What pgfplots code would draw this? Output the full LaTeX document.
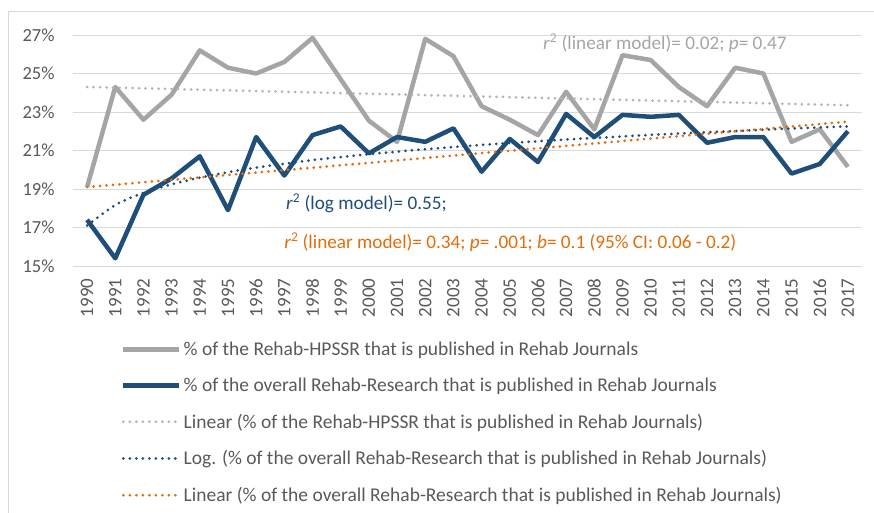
\documentclass[border=0pt]{standalone}
\usepackage{pgfplots}
\pgfplotsset{compat=1.18}
\usepackage{fontspec}
\setmainfont{Carlito}
\definecolor{cgray}{HTML}{A5A5A5}
\definecolor{cgrayd}{HTML}{B4B4B4}
\definecolor{cnavy}{HTML}{1F4E79}
\definecolor{corange}{HTML}{E46C0A}
\definecolor{ctick}{HTML}{595959}
\definecolor{cgrid}{HTML}{D9D9D9}
\begin{document}
\begin{tikzpicture}[x=1bp,y=1bp]
\useasboundingbox (0,0) rectangle (874,-513);
\draw[cgrid,line width=1bp] (8,-513) -- (8,-12) -- (874,-12);
\begin{axis}[
  at={(73bp,-266bp)}, anchor=south west,
  scale only axis, width=789bp, height=231bp,
  xmin=1989.5, xmax=2017.5, ymin=15, ymax=27,
  xtick={1990,...,2017},
  ytick={15,17,...,27},
  yticklabels={15\%,17\%,19\%,21\%,23\%,25\%,27\%},
  /pgf/number format/assume math mode=true,
  /pgf/number format/set thousands separator={},
  x tick label style={rotate=90, anchor=east, font=\fontsize{19bp}{21bp}\selectfont, text=ctick},
  xticklabel shift=9bp,
  y tick label style={font=\fontsize{18.5bp}{21bp}\selectfont, text=ctick},
  yticklabel shift=15bp,
  ymajorgrids, grid style={cgrid, line width=1bp},
  axis line style={draw=none},
  major tick style={draw=none},
  clip=false,
  legend cell align=left,
  legend style={draw=none, fill=none, at={(0.057,-0.31)}, anchor=north west,
    font=\fontsize{19.5bp}{22bp}\selectfont, text=ctick, row sep=17bp,
    /tikz/every even column/.append style={column sep=4bp}},
  legend image code/.code={\draw[#1] (0bp,0bp) -- (56bp,0bp);},
]
\addplot[cgray, line width=4.5bp, line join=round] coordinates {
(1990,19.1)(1991,24.3)(1992,22.6)(1993,23.9)(1994,26.2)(1995,25.3)(1996,25.0)
(1997,25.6)(1998,26.85)(1999,24.7)(2000,22.55)(2001,21.45)(2002,26.8)(2003,25.9)
(2004,23.3)(2005,22.6)(2006,21.8)(2007,24.05)(2008,22.1)(2009,25.95)(2010,25.7)
(2011,24.3)(2012,23.3)(2013,25.3)(2014,25.0)(2015,21.45)(2016,22.1)(2017,20.15)};
\addlegendentry{\% of the Rehab-HPSSR that is published in Rehab Journals}
\addplot[cnavy, line width=4.5bp, line join=round] coordinates {
(1990,17.4)(1991,15.4)(1992,18.7)(1993,19.55)(1994,20.7)(1995,17.9)(1996,21.7)
(1997,19.7)(1998,21.8)(1999,22.25)(2000,20.85)(2001,21.7)(2002,21.45)(2003,22.15)
(2004,19.9)(2005,21.6)(2006,20.4)(2007,22.9)(2008,21.7)(2009,22.85)(2010,22.75)
(2011,22.85)(2012,21.4)(2013,21.7)(2014,21.7)(2015,19.8)(2016,20.3)(2017,22.0)};
\addlegendentry{\% of the overall Rehab-Research that is published in Rehab Journals}
\addplot[cgrayd, line width=3bp, line cap=round, dash pattern=on 0bp off 6.5bp] coordinates {
(1990,24.3)(2017,23.35)};
\addlegendentry{Linear (\% of the Rehab-HPSSR that is published in Rehab Journals)}
\addplot[cnavy, line width=3bp, line cap=round, dash pattern=on 0bp off 6.5bp, smooth] coordinates {
(1990,17.10)(1991,18.17)(1992,18.80)(1993,19.24)(1994,19.59)(1995,19.87)(1996,20.11)
(1997,20.31)(1998,20.50)(1999,20.66)(2000,20.81)(2001,20.94)(2002,21.07)(2003,21.18)
(2004,21.29)(2005,21.39)(2006,21.48)(2007,21.57)(2008,21.65)(2009,21.73)(2010,21.81)
(2011,21.88)(2012,21.95)(2013,22.01)(2014,22.08)(2015,22.14)(2016,22.20)(2017,22.25)};
\addlegendentry{Log. (\% of the overall Rehab-Research that is published in Rehab Journals)}
\addplot[corange, line width=3bp, line cap=round, dash pattern=on 0bp off 6.5bp] coordinates {
(1990,19.1)(2017,22.5)};
\addlegendentry{Linear (\% of the overall Rehab-Research that is published in Rehab Journals)}
\node[anchor=west, text=cgray, font=\fontsize{19.2bp}{21bp}\selectfont, inner sep=0pt] at (axis cs:2006.18,26.58)
  {\textit{r}\textsuperscript{2} (linear model)= 0.02; \textit{p}= 0.47};
\node[anchor=west, text=cnavy, font=\fontsize{19.2bp}{21bp}\selectfont, inner sep=0pt] at (axis cs:1997.06,18.27)
  {\textit{r}\textsuperscript{2} (log model)= 0.55;};
\node[anchor=west, text=corange, font=\fontsize{19.2bp}{21bp}\selectfont, inner sep=0pt] at (axis cs:1996.99,16.25)
  {\textit{r}\textsuperscript{2} (linear model)= 0.34; \textit{p}= .001; \textit{b}= 0.1 (95\% CI: 0.06 - 0.2)};
\end{axis}
\end{tikzpicture}
\end{document}
